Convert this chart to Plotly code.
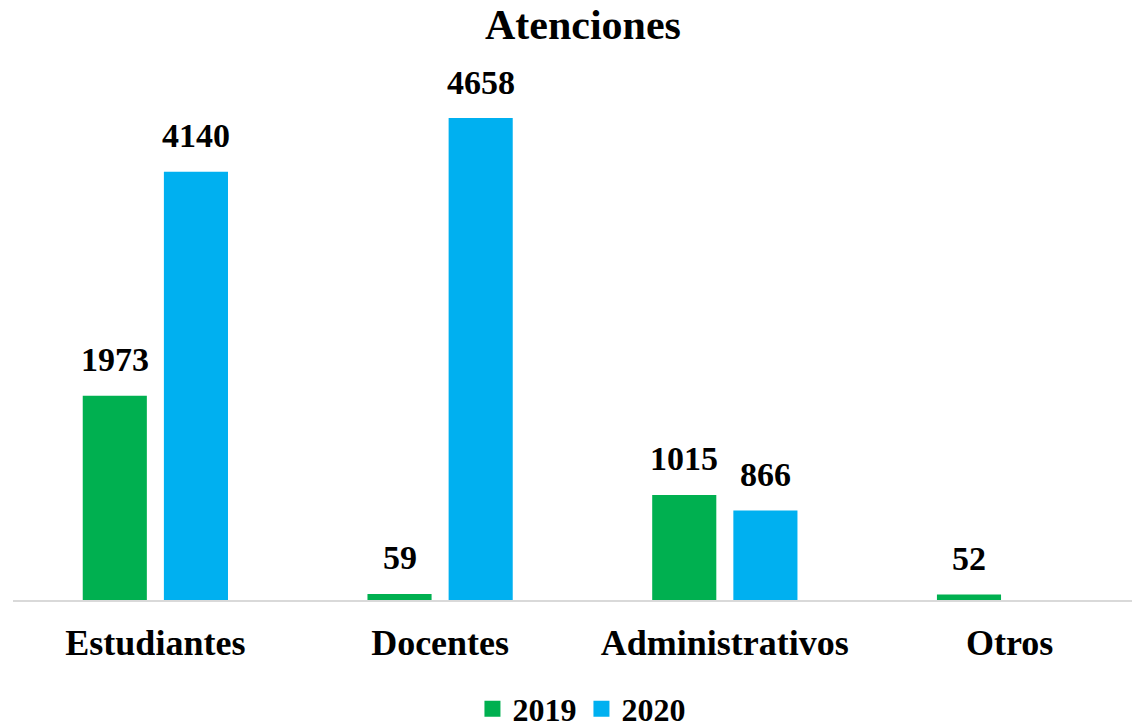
import plotly.graph_objects as go

categories = ["Estudiantes", "Docentes", "Administrativos", "Otros"]
years = ["2019", "2020"]
values_2019 = [1973, 59, 1015, 52]
values_2020 = [4140, 4658, 866, None]
colors = ["#00B050", "#00B0F0"]

FONT = "Liberation Serif"
series = [values_2019, values_2020]

fig = go.Figure()
for name, vals, col in zip(years, series, colors):
    fig.add_trace(go.Bar(
        name=name,
        x=categories,
        y=vals,
        marker=dict(color=col, line=dict(width=0)),
        showlegend=False,
        hoverinfo="x+y",
    ))

# legend entries with larger square swatches
for name, col in zip(years, colors):
    fig.add_trace(go.Scatter(
        name=f"<b>{name}</b>",
        x=[None], y=[None],
        mode="markers",
        marker=dict(symbol="square", size=19, color=col),
        showlegend=True,
    ))

# value labels above each bar
offsets = [-40.5, 40.5]
for vals, dx in zip(series, offsets):
    for cat, v in zip(categories, vals):
        if v is None:
            continue
        fig.add_annotation(
            x=cat, y=v, xref="x", yref="y",
            text=f"<b>{v}</b>",
            showarrow=False,
            xshift=dx, yshift=36,
            yanchor="middle",
            font=dict(family=FONT, size=34, color="#000000"),
        )

fig.update_layout(
    width=1132,
    height=727,
    barmode="group",
    bargap=0.43,
    bargroupgap=0.21,
    plot_bgcolor="#FFFFFF",
    paper_bgcolor="#FFFFFF",
    margin=dict(l=13, r=0, t=62, b=127, autoexpand=False),
    title=dict(
        text="<b>Atenciones</b>",
        x=0.515, xanchor="center",
        y=0.966, yanchor="middle",
        font=dict(family=FONT, size=42, color="#000000"),
    ),
    font=dict(family=FONT, color="#000000"),
    xaxis=dict(
        range=[-0.5, 3.43],
        showline=True,
        linecolor="#D9D9D9",
        linewidth=2,
        ticks="",
        tickfont=dict(family=FONT, size=36, color="#000000"),
        ticklabelstandoff=10,
        tickprefix="<b>",
        ticksuffix="</b>",
    ),
    yaxis=dict(
        range=[0, 5200],
        visible=False,
        showgrid=False,
        zeroline=False,
    ),
    legend=dict(
        orientation="h",
        x=0.508, xanchor="center",
        y=-0.2026, yanchor="middle",
        font=dict(family=FONT, size=32, color="#000000"),
        itemsizing="trace",
        itemwidth=30,
        traceorder="normal",
    ),
)

fig.write_html("out.html")
